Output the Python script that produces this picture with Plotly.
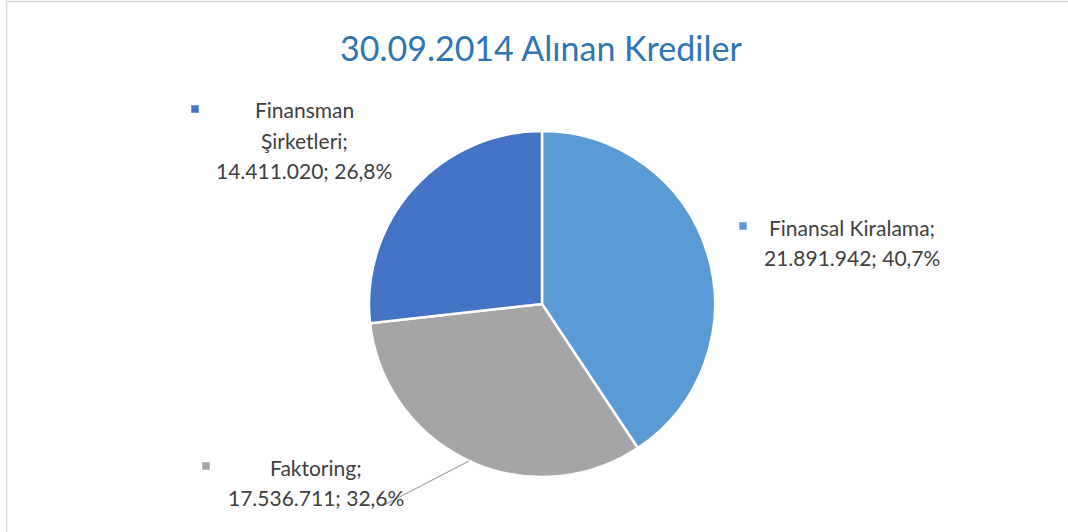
import plotly.graph_objects as go

# Data
categories = ["Finansal Kiralama", "Faktoring", "Finansman Şirketleri"]
values = [21891942, 17536711, 14411020]
colors = ["#5B9BD5", "#A5A5A5", "#4472C4"]
title_text = "30.09.2014 Alınan Krediler"

W, H = 1068, 532

def fmt_num(v):
    return f"{v:,}".replace(",", ".")

total = sum(values)
pcts = [v / total * 100 for v in values]
pct_txt = [f"{p:.1f}%".replace(".", ",") for p in pcts]

# label lines built from data
label_lines = {
    "Finansal Kiralama": ["Finansal Kiralama;", f"{fmt_num(values[0])}; {pct_txt[0]}"],
    "Faktoring": ["Faktoring;", f"{fmt_num(values[1])}; {pct_txt[1]}"],
    "Finansman Şirketleri": ["Finansman", "Şirketleri;", f"{fmt_num(values[2])}; {pct_txt[2]}"],
}

# layout positions (pixels) for label blocks: (text center x, first line y, marker x)
label_pos = {
    "Finansal Kiralama": (852, 227, 743),
    "Faktoring": (316, 467, 206),
    "Finansman Şirketleri": (304, 110, 195),
}
line_gap = 30.5

cx, cy, r = 542, 304, 173

fig = go.Figure()
fig.add_trace(go.Pie(
    labels=categories,
    values=values,
    sort=False,
    direction="clockwise",
    rotation=0,
    marker=dict(colors=colors, line=dict(color="white", width=2.5)),
    textinfo="none",
    hoverinfo="label+value+percent",
    showlegend=False,
    domain=dict(x=[(cx - r) / W, (cx + r) / W], y=[(H - cy - r) / H, (H - cy + r) / H]),
))

def px(x):
    return x / W

def py(y):
    return 1 - y / H

annotations = []
shapes = []
font_family = "Lato, 'Open Sans', sans-serif"
for cat, col in zip(categories, colors):
    tx, ty, mx = label_pos[cat]
    for i, line in enumerate(label_lines[cat]):
        annotations.append(dict(
            x=px(tx), y=py(ty + i * line_gap), xref="paper", yref="paper",
            text=line, showarrow=False, xanchor="center", yanchor="middle",
            font=dict(family=font_family, size=21, color="#404040"),
        ))
    s = 3.75
    shapes.append(dict(type="rect", xref="paper", yref="paper",
                       x0=px(mx - s), x1=px(mx + s), y0=py(ty - s - 1), y1=py(ty + s - 1),
                       fillcolor=col, line=dict(width=0)))

# leader line for Faktoring
shapes.append(dict(type="line", xref="paper", yref="paper",
                   x0=px(469), y0=py(461), x1=px(384), y1=py(505),
                   line=dict(color="#A6A6A6", width=1.3)))

# chart border
shapes.append(dict(type="rect", xref="paper", yref="paper",
                   x0=px(6.5), y0=py(540), x1=px(1075), y1=py(1.5),
                   line=dict(color="#D9D9D9", width=1.5), fillcolor="rgba(0,0,0,0)"))

annotations.append(dict(
    x=px(541), y=py(47), xref="paper", yref="paper", text=title_text,
    showarrow=False, xanchor="center", yanchor="middle",
    font=dict(family=font_family, size=34, color="#2E75B6"),
))

fig.update_layout(
    width=W, height=H,
    margin=dict(l=0, r=0, t=0, b=0),
    paper_bgcolor="white",
    plot_bgcolor="white",
    annotations=annotations,
    shapes=shapes,
)

fig.write_html("out.html", config={"displayModeBar": False},
               post_script="document.body.style.margin='0px';document.body.style.overflow='hidden';")
